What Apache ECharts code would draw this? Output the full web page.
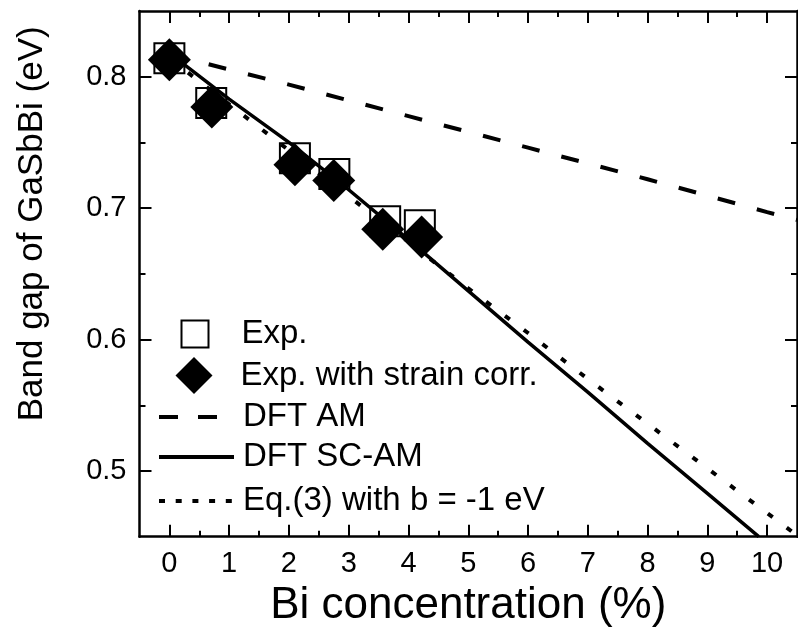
<!DOCTYPE html>
<html>
<head>
<meta charset="utf-8">
<script src="https://cdn.jsdelivr.net/npm/echarts@6/dist/echarts.min.js"></script>
<style>
  html, body { margin: 0; padding: 0; background: #fff; }
  #chart { width: 798px; height: 635px; }
</style>
</head>
<body>
<div id="chart"></div>
<script>
// Band gap of GaSbBi versus Bi concentration
const FONT = "'Liberation Sans', Arial, sans-serif";

// Measured gaps
const expX  = [0, 0.70, 2.10, 2.76, 3.61, 4.19];
const expY  = [0.814, 0.780, 0.738, 0.726, 0.690, 0.687];
const corrX = [0, 0.71, 2.10, 2.75, 3.57, 4.22];
const corrY = [0.813, 0.777, 0.733, 0.721, 0.684, 0.678];

// DFT AM curve
const amX = [0, 2, 4, 6, 8, 10, 10.5];
const amY = [0.817, 0.794, 0.770, 0.746, 0.722, 0.697, 0.691];

// DFT SC-AM curve
const scX = [0, 1, 2, 3, 4, 5, 6, 7, 8, 9, 9.86];
const scY = [0.818, 0.783, 0.750, 0.714, 0.676, 0.637, 0.598, 0.560, 0.521, 0.483, 0.450];

// Eq.(3) with b = -1 eV
const eqX = [0, 1, 2, 3, 4, 5, 6, 7, 8, 9, 10, 10.5];
const eqY = [0.814, 0.779, 0.744, 0.709, 0.674, 0.639, 0.605, 0.570, 0.536, 0.502, 0.468, 0.451];

// Tick positions
const xMajor = [0, 1, 2, 3, 4, 5, 6, 7, 8, 9, 10];
const xMinor = [0.5, 1.5, 2.5, 3.5, 4.5, 5.5, 6.5, 7.5, 8.5, 9.5];
const yMajor = [0.5, 0.6, 0.7, 0.8];
const yMinor = [0.55, 0.65, 0.75];

const names = {
  exp: 'Exp.',
  corr: 'Exp. with strain corr.',
  am: 'DFT AM',
  sc: 'DFT SC-AM',
  eq: 'Eq.(3) with b = -1 eV'
};

const zip = (xs, ys) => xs.map((x, i) => [x, ys[i]]);

const AX_LINE = { show: true, onZero: false, lineStyle: { color: '#000', width: 2.5 } };
const NO_LINE = { show: false, onZero: false };

function xAxisDef(pos, ticks, len, withLine, withLabels) {
  return {
    type: 'value', position: pos, min: -0.5, max: 10.5,
    axisLine: withLine ? AX_LINE : NO_LINE,
    splitLine: { show: false },
    axisTick: { show: true, inside: true, length: len, customValues: ticks,
                lineStyle: { color: '#000', width: 2 } },
    axisLabel: withLabels ? {
      show: true, customValues: ticks, margin: 13,
      fontSize: 29, fontFamily: FONT, color: '#000',
      formatter: v => String(v)
    } : { show: false },
    silent: true
  };
}

function yAxisDef(pos, ticks, len, withLine, withLabels) {
  return {
    type: 'value', position: pos, min: 0.45, max: 0.85,
    axisLine: withLine ? AX_LINE : NO_LINE,
    splitLine: { show: false },
    axisTick: { show: true, inside: true, length: len, customValues: ticks,
                lineStyle: { color: '#000', width: 2 } },
    axisLabel: withLabels ? {
      show: true, customValues: ticks, margin: 13,
      fontSize: 29, fontFamily: FONT, color: '#000',
      formatter: v => v.toFixed(1)
    } : { show: false },
    silent: true
  };
}

const xAxes = [
  xAxisDef('bottom', xMajor, 12, true, true),
  xAxisDef('bottom', xMinor, 6, false, false),
  xAxisDef('top', xMajor, 12, true, false),
  xAxisDef('top', xMinor, 6, false, false)
];
Object.assign(xAxes[0], {
  name: 'Bi concentration (%)', nameLocation: 'middle', nameGap: 44,
  nameTextStyle: { fontSize: 44, fontFamily: FONT, color: '#000' }
});

const yAxes = [
  yAxisDef('left', yMajor, 12, true, true),
  yAxisDef('left', yMinor, 6, false, false),
  yAxisDef('right', yMajor, 12, true, false),
  yAxisDef('right', yMinor, 6, false, false)
];
Object.assign(yAxes[0], {
  name: 'Band gap of GaSbBi (eV)', nameLocation: 'middle', nameGap: 90,
  nameTextStyle: { fontSize: 35, fontFamily: FONT, color: '#000', padding: [0, 0, 0, 100] }
});

// One legend block per row so each icon can have its own size
const legendText = (padLeft) => ({
  fontSize: 33, fontFamily: FONT, color: '#000', lineHeight: 36,
  padding: [0, 0, 0, padLeft]
});
const lineLegend = (name, top, dash) => ({
  data: [name], left: 157, top: top, orient: 'horizontal', padding: 0,
  itemWidth: 75, itemHeight: 14, selectedMode: false,
  itemStyle: { color: 'rgba(0,0,0,0)', borderWidth: 0 },
  lineStyle: { color: '#000', width: 4, type: dash, cap: 'butt' },
  textStyle: legendText(4)
});

const legends = [
  {
    data: [names.exp], left: 180.5, top: 316, orient: 'horizontal', padding: 0,
    itemWidth: 27, itemHeight: 27, icon: 'rect', selectedMode: false,
    itemStyle: { color: '#fff', borderColor: '#000', borderWidth: 2, opacity: 1 },
    textStyle: legendText(28)
  },
  {
    data: [names.corr], left: 175.5, top: 357, orient: 'horizontal', padding: 0,
    itemWidth: 37, itemHeight: 37, icon: 'diamond', selectedMode: false,
    itemStyle: { color: '#000', borderWidth: 0, opacity: 1 },
    textStyle: legendText(23)
  },
  lineLegend(names.am, 399, [19, 20]),
  lineLegend(names.sc, 439, 'solid'),
  lineLegend(names.eq, 483, [6, 10.7])
];

const chart = echarts.init(document.getElementById('chart'), null, { renderer: 'canvas' });
chart.setOption({
  animation: false,
  backgroundColor: '#fff',
  grid: { left: 139.5, right: 1, top: 11, bottom: 98.3, containLabel: false, outerBoundsMode: 'none' },
  xAxis: xAxes,
  yAxis: yAxes,
  legend: legends,
  series: [
    {
      name: names.exp, type: 'scatter', data: zip(expX, expY),
      symbol: 'rect', symbolSize: 30, z: 2, silent: true,
      itemStyle: { color: '#fff', borderColor: '#000', borderWidth: 2, opacity: 1 }
    },
    {
      name: names.am, type: 'line', data: zip(amX, amY), symbol: 'none', z: 3, silent: true,
      lineStyle: { color: '#000', width: 4, type: [18, 22.5], cap: 'butt', opacity: 1 }
    },
    {
      name: names.sc, type: 'line', data: zip(scX, scY), symbol: 'none', z: 3, silent: true,
      lineStyle: { color: '#000', width: 3.5, type: 'solid', opacity: 1 }
    },
    {
      name: names.eq, type: 'line', data: zip(eqX, eqY), symbol: 'none', z: 3, silent: true,
      lineStyle: { color: '#000', width: 4, type: [6, 17.5], cap: 'butt', opacity: 1 }
    },
    {
      name: names.corr, type: 'scatter', data: zip(corrX, corrY),
      symbol: 'diamond', symbolSize: 43, z: 4, silent: true,
      itemStyle: { color: '#000', borderWidth: 0, opacity: 1 }
    }
  ]
});
</script>
</body>
</html>
